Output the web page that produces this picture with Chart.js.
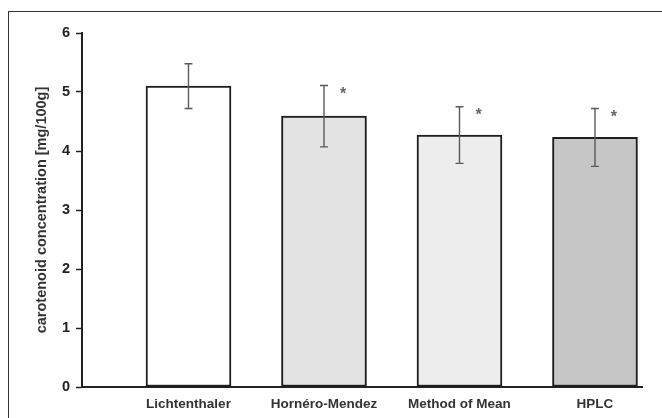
<!DOCTYPE html>
<html>
<head>
<meta charset="utf-8">
<script src="https://cdn.jsdelivr.net/npm/chart.js@4.4.1/dist/chart.umd.min.js"></script>
<style>
  html, body { margin: 0; padding: 0; background: #fff; }
  #wrap { position: relative; width: 662px; height: 418px; overflow: hidden; }
  #frame { position: absolute; left: 8px; top: 11px; width: 700px; height: 460px; border: 1.5px solid #333; box-sizing: border-box; }
  canvas { position: absolute; left: 0; top: 0; }
</style>
</head>
<body>
<div id="wrap">
  <div id="frame"></div>
  <canvas id="c" width="662" height="418"></canvas>
</div>
<script>
const categories = ["Lichtenthaler", "Hornéro-Mendez", "Method of Mean", "HPLC"];
const means = [5.10, 4.59, 4.27, 4.23];
const errors = [0.38, 0.52, 0.48, 0.49];
const significant = [false, true, true, true];
const barColors = ["#ffffff", "#e3e3e3", "#ededed", "#c6c6c6"];
const yTicks = [0, 1, 2, 3, 4, 5, 6];
const yTitle = "carotenoid concentration [mg/100g]";

const points = means.map((v, i) => ({ x: i, y: v }));

const errorBarPlugin = {
  id: 'errorBars',
  afterDatasetsDraw(chart) {
    const ctx = chart.ctx;
    const xs = chart.scales.x, ys = chart.scales.y;
    ctx.save();
    means.forEach((m, i) => {
      const cx = xs.getPixelForValue(i);
      const top = ys.getPixelForValue(m + errors[i]);
      const bot = ys.getPixelForValue(m - errors[i]);
      ctx.strokeStyle = '#5a5a5a';
      ctx.lineWidth = 1.4;
      ctx.beginPath();
      ctx.moveTo(cx, top); ctx.lineTo(cx, bot);
      ctx.moveTo(cx - 4, top); ctx.lineTo(cx + 4, top);
      ctx.moveTo(cx - 4, bot); ctx.lineTo(cx + 4, bot);
      ctx.stroke();
      if (significant[i]) {
        ctx.fillStyle = '#666';
        ctx.font = 'bold 16px "Liberation Sans", Arial, sans-serif';
        ctx.textAlign = 'center';
        ctx.textBaseline = 'top';
        ctx.fillText('*', cx + 19, top + 1);
      }
    });
    ctx.restore();
  }
};

new Chart(document.getElementById('c'), {
  type: 'bar',
  data: {
    datasets: [{
      data: points,
      backgroundColor: barColors,
      borderColor: '#1e1e1e',
      borderWidth: 2,
      borderSkipped: false,
      barThickness: 85
    }]
  },
  options: {
    responsive: false,
    animation: false,
    events: [],
    layout: { padding: { left: 0, top: 33, right: 20, bottom: 0 } },
    plugins: { legend: { display: false }, tooltip: { enabled: false } },
    scales: {
      x: {
        type: 'linear',
        offset: false,
        min: -0.786,
        max: 3.347,
        afterBuildTicks(scale) { scale.ticks = categories.map((c, i) => ({ value: i })); },
        afterFit(scale) { scale.height = 31; },
        ticks: {
          autoSkip: false,
          maxRotation: 0,
          color: '#333',
          padding: 9,
          font: { family: '"Liberation Sans", Arial, sans-serif', size: 13.5, weight: 'bold' },
          callback: (v) => categories[v]
        },
        grid: { display: true, offset: false, drawOnChartArea: false, drawTicks: false },
        border: { display: true, color: '#222', width: 2 }
      },
      y: {
        min: 0,
        max: 6,
        afterBuildTicks(scale) { scale.ticks = yTicks.map(v => ({ value: v })); },
        afterFit(scale) { scale.width = 82; },
        ticks: {
          color: '#222',
          padding: 6,
          font: { family: '"Liberation Sans", Arial, sans-serif', size: 14.5, weight: 'bold' }
        },
        grid: { display: true, drawOnChartArea: false, drawTicks: true, tickLength: 6, color: '#222', tickWidth: 1.5 },
        border: { display: true, color: '#222', width: 2 },
        title: {
          display: true,
          text: yTitle,
          color: '#333',
          padding: { top: 33, bottom: 0 },
          font: { family: '"Liberation Sans", Arial, sans-serif', size: 14.5, weight: 'bold' }
        }
      }
    }
  },
  plugins: [errorBarPlugin]
});
</script>
</body>
</html>
